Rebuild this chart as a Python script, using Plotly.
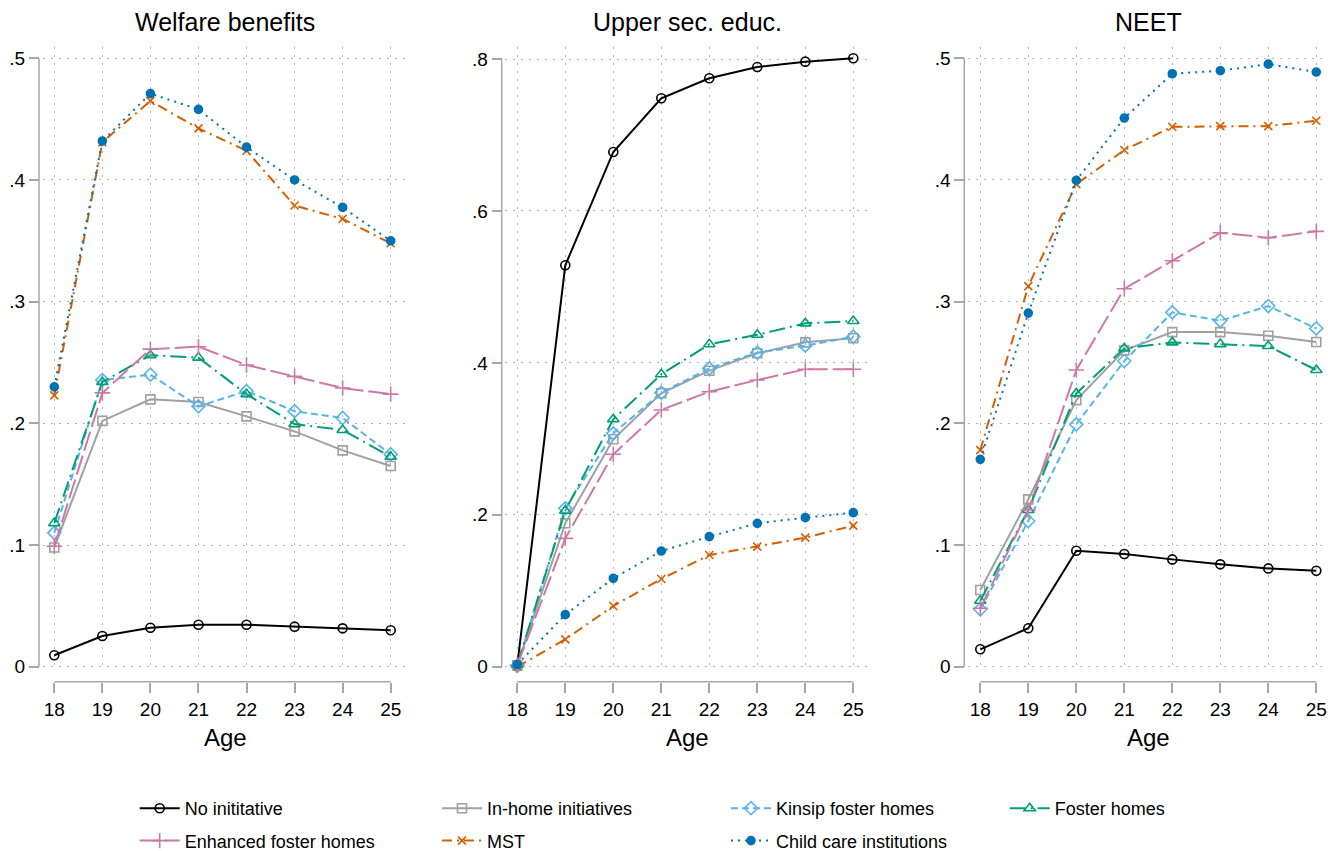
import plotly.graph_objects as go

W, H = 1328, 851

ages = [18, 19, 20, 21, 22, 23, 24, 25]

series_names = ["No inititative", "In-home initiatives", "Kinsip foster homes",
                "Foster homes", "Enhanced foster homes", "MST", "Child care institutions"]

# Welfare benefits
welfare_no_init = [0.0094, 0.0252, 0.0320, 0.0345, 0.0345, 0.0329, 0.0315, 0.0299]
welfare_inhome = [0.098, 0.202, 0.2197, 0.2175, 0.2057, 0.1934, 0.1778, 0.165]
welfare_kinship = [0.110, 0.2356, 0.240, 0.214, 0.2265, 0.210, 0.2044, 0.1745]
welfare_foster = [0.118, 0.234, 0.256, 0.254, 0.224, 0.1994, 0.1945, 0.1726]
welfare_enhanced = [0.099, 0.225, 0.261, 0.263, 0.248, 0.2386, 0.229, 0.224]
welfare_mst = [0.223, 0.431, 0.465, 0.4424, 0.424, 0.379, 0.368, 0.348]
welfare_childcare = [0.230, 0.432, 0.471, 0.458, 0.427, 0.400, 0.3775, 0.350]

# Upper secondary education
educ_no_init = [0.002, 0.5284, 0.6776, 0.7483, 0.7746, 0.7895, 0.7965, 0.801]
educ_inhome = [0.002, 0.1888, 0.2994, 0.360, 0.3897, 0.4126, 0.427, 0.4323]
educ_kinship = [0.001, 0.2085, 0.3072, 0.3607, 0.3928, 0.4134, 0.4226, 0.4345]
educ_foster = [0.003, 0.2054, 0.3257, 0.3849, 0.4244, 0.4370, 0.452, 0.4551]
educ_enhanced = [0.002, 0.169, 0.2796, 0.338, 0.362, 0.3774, 0.3915, 0.3915]
educ_mst = [0.000, 0.036, 0.0799, 0.1155, 0.147, 0.158, 0.1699, 0.1857]
educ_childcare = [0.003, 0.0685, 0.1163, 0.1523, 0.1712, 0.1888, 0.1962, 0.2028]

# NEET
neet_no_init = [0.0143, 0.0316, 0.0953, 0.0926, 0.0882, 0.0841, 0.0808, 0.0789]
neet_inhome = [0.063, 0.1375, 0.2191, 0.260, 0.275, 0.275, 0.272, 0.2668]
neet_kinship = [0.0472, 0.1197, 0.1992, 0.2512, 0.2912, 0.2843, 0.2964, 0.278]
neet_foster = [0.0542, 0.1288, 0.2246, 0.2616, 0.2665, 0.2651, 0.2635, 0.2438]
neet_enhanced = [0.048, 0.1288, 0.2438, 0.3106, 0.3336, 0.3566, 0.3525, 0.3578]
neet_mst = [0.178, 0.3128, 0.3966, 0.4246, 0.4437, 0.4443, 0.4443, 0.4487]
neet_childcare = [0.1704, 0.2906, 0.3997, 0.4509, 0.4873, 0.4898, 0.4952, 0.4887]

panel_titles = ["Welfare benefits", "Upper sec. educ.", "NEET"]
panel_data = [
    [welfare_no_init, welfare_inhome, welfare_kinship, welfare_foster,
     welfare_enhanced, welfare_mst, welfare_childcare],
    [educ_no_init, educ_inhome, educ_kinship, educ_foster,
     educ_enhanced, educ_mst, educ_childcare],
    [neet_no_init, neet_inhome, neet_kinship, neet_foster,
     neet_enhanced, neet_mst, neet_childcare],
]

yticks_share = [0, 0.1, 0.2, 0.3, 0.4, 0.5]
yticklabels_share = ["0", ".1", ".2", ".3", ".4", ".5"]
yticks_educ = [0, 0.2, 0.4, 0.6, 0.8]
yticklabels_educ = ["0", ".2", ".4", ".6", ".8"]
panel_yticks = [(yticks_share, yticklabels_share), (yticks_educ, yticklabels_educ),
                (yticks_share, yticklabels_share)]

# ---- styling ----
colors = ["#000000", "#A0A0A0", "#56B4E9", "#009E73", "#CC79A7", "#D55E00", "#0072B2"]
dashes = ["solid", "solid", "7px,4px", "16px,5px,2px,5px", "20px,5px",
          "10px,5px,2px,5px", "2px,5px"]
symbols = ["circle-open", "square-open", "diamond-open", "triangle-up-open",
           "cross-thin-open", "x-thin-open", "circle"]
msizes = [9, 9, 10, 10, 11, 8, 8]
legend_ids = ["legend", "legend2", "legend3", "legend4", "legend", "legend2", "legend3"]

FONT = "Liberation Sans, Arial, sans-serif"
AXCOL = "#A6A6A6"
GRIDCOL = "#B4B4B4"

# pixel geometry
x_dom_px = [(43, 407), (505, 870), (968, 1328)]
x_ranges = [(17.765, 25.339), (17.744, 25.348), (17.744, 25.244)]
y_ranges = [(-0.00107, 0.50953), (-0.0017, 0.81619), (-0.00107, 0.50953)]
yaxis_pos_px = [39, 501.7, 964.3]
y_dom = [(H - 668) / H, (H - 46.7) / H]
xaxis_pos = (H - 681.7) / H

fig = go.Figure()
shapes = []
annotations = []

for p in range(3):
    xa = "x" if p == 0 else f"x{p+1}"
    ya = "y" if p == 0 else f"y{p+1}"
    for i, name in enumerate(series_names):
        fig.add_trace(go.Scatter(
            x=ages, y=panel_data[p][i], name=name, xaxis=xa, yaxis=ya,
            mode="lines+markers", cliponaxis=False,
            line=dict(color=colors[i], width=2, dash=dashes[i]),
            marker=dict(symbol=symbols[i], size=msizes[i], color=colors[i],
                        line=dict(color=colors[i], width=1.6)),
            showlegend=(p == 0), legend=legend_ids[i], legendgroup=name,
        ))
    dx0, dx1 = x_dom_px[p]
    tv, tt = panel_yticks[p]
    xkey = "xaxis" if p == 0 else f"xaxis{p+1}"
    ykey = "yaxis" if p == 0 else f"yaxis{p+1}"
    fig.update_layout(**{
        xkey: dict(domain=[dx0 / W, dx1 / W], range=list(x_ranges[p]), anchor="free",
                   position=xaxis_pos, tickvals=ages, ticktext=[str(a) for a in ages],
                   ticks="outside", ticklen=10, tickwidth=1.5, tickcolor=AXCOL,
                   showline=False, zeroline=False, showgrid=True, gridcolor=GRIDCOL,
                   gridwidth=1, griddash="2px,6px",
                   tickfont=dict(family=FONT, size=19, color="#000000")),
        ykey: dict(domain=y_dom, range=list(y_ranges[p]), anchor="free",
                   position=yaxis_pos_px[p] / W, tickvals=tv, ticktext=tt,
                   ticks="outside", ticklen=10, tickwidth=1.5, tickcolor=AXCOL,
                   showline=False, zeroline=False, showgrid=True, gridcolor=GRIDCOL,
                   gridwidth=1, griddash="2px,6px",
                   tickfont=dict(family=FONT, size=19, color="#000000")),
    })
    # axis lines spanning the tick range (Stata style)
    shapes.append(dict(type="line", xref="paper", yref=ya,
                       x0=yaxis_pos_px[p] / W, x1=yaxis_pos_px[p] / W,
                       y0=tv[0], y1=tv[-1], line=dict(color=AXCOL, width=1.5)))
    shapes.append(dict(type="line", xref=xa, yref="paper",
                       x0=ages[0], x1=ages[-1], y0=xaxis_pos, y1=xaxis_pos,
                       line=dict(color=AXCOL, width=1.5)))
    cx = (dx0 + dx1) / 2 / W
    annotations.append(dict(text=panel_titles[p], x=cx, y=(H - 22) / H, xref="paper",
                            yref="paper", showarrow=False, xanchor="center",
                            yanchor="middle", font=dict(family=FONT, size=25, color="#000")))
    annotations.append(dict(text="Age", x=cx, y=(H - 737) / H, xref="paper",
                            yref="paper", showarrow=False, xanchor="center",
                            yanchor="middle", font=dict(family=FONT, size=24, color="#000")))

legend_text_px = [186.7, 489, 778, 1056.7]
legend_common = dict(orientation="v", xanchor="left", yanchor="top",
                     y=(H - 790) / H, bgcolor="rgba(0,0,0,0)",
                     font=dict(family=FONT, size=18, color="#000"),
                     tracegroupgap=6, itemwidth=40)
legends = {}
for k, lid in enumerate(["legend", "legend2", "legend3", "legend4"]):
    legends[lid] = dict(legend_common, x=(legend_text_px[k] - 52) / W)

fig.update_layout(
    width=W, height=H, margin=dict(l=0, r=0, t=0, b=0, autoexpand=False),
    paper_bgcolor="white", plot_bgcolor="white",
    shapes=shapes, annotations=annotations,
    font=dict(family=FONT, color="#000"),
    **legends,
)

fig.write_html("out.html", config={"displayModeBar": False},
               post_script="document.body.style.margin='0';document.body.style.overflow='hidden';")
